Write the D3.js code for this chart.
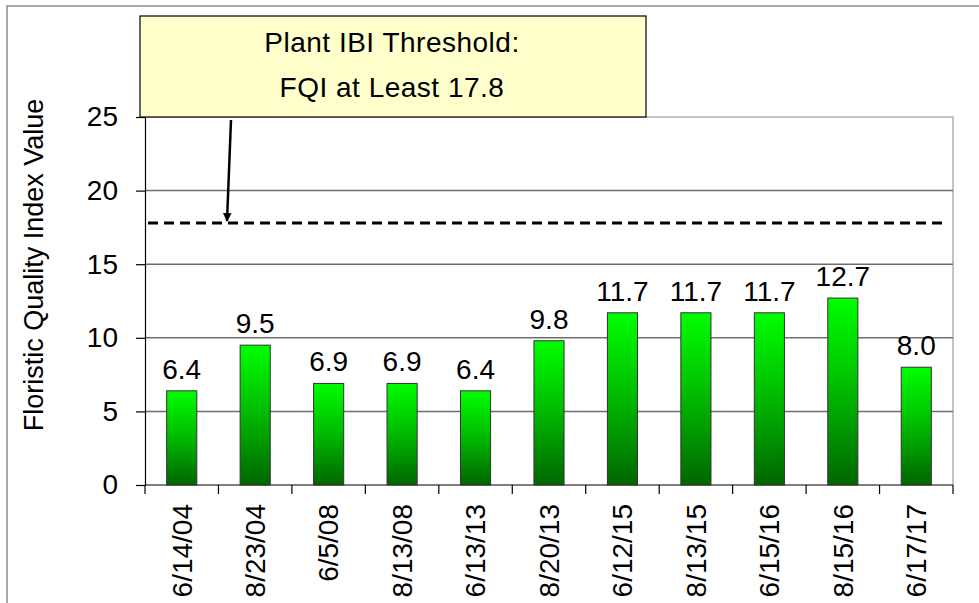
<!DOCTYPE html>
<html>
<head>
<meta charset="utf-8">
<script src="https://cdn.jsdelivr.net/npm/d3@7"></script>
<style>
  body { margin: 0; background: #fff; }
  svg { display: block; font-family: Arial, "Liberation Sans", sans-serif; }
</style>
</head>
<body>
<div id="chart"></div>
<script>
// data
var dates = ["6/14/04", "8/23/04", "6/5/08", "8/13/08", "6/13/13", "8/20/13", "6/12/15", "8/13/15", "6/15/16", "8/15/16", "6/17/17"];
var fqiValues = [6.4, 9.5, 6.9, 6.9, 6.4, 9.8, 11.7, 11.7, 11.7, 12.7, 8.0];
var yTicks = [0, 5, 10, 15, 20, 25];
var threshold = 17.8;
var noteLines = ["Plant IBI Threshold:", "FQI at Least 17.8"];

createGraph();

function createGraph() {
    var width = 979, height = 603;
    var left = 145, right = 953, top = 117, bottom = 485;
    var fontSize = "28px";

    var svg = d3.select("#chart").append("svg")
        .attr("width", width)
        .attr("height", height);

    // gradient for the bars
    var grad = svg.append("defs").append("linearGradient")
        .attr("id", "barFill")
        .attr("x1", 0).attr("y1", 0).attr("x2", 0).attr("y2", 1);
    grad.append("stop").attr("offset", "0%").attr("stop-color", "#00ff00");
    grad.append("stop").attr("offset", "45%").attr("stop-color", "#00c000");
    grad.append("stop").attr("offset", "100%").attr("stop-color", "#006600");

    // outer frame
    svg.append("rect")
        .attr("x", 7).attr("y", 6)
        .attr("width", width + 20).attr("height", height + 20)
        .attr("fill", "none")
        .attr("stroke", "#8c8c8c")
        .attr("stroke-width", 1.5);

    var x = d3.scaleBand().domain(dates).range([left, right]).paddingInner(0.59).paddingOuter(0.295);
    var xBounds = d3.scaleLinear().domain([0, dates.length]).range([left, right]);
    var y = d3.scaleLinear().domain([0, 25]).range([bottom, top]);

    // plot border (light) top + right
    svg.append("path")
        .attr("d", "M" + left + "," + top + "H" + right + "V" + bottom)
        .attr("fill", "none")
        .attr("stroke", "#b0b0b0")
        .attr("stroke-width", 1.5);

    // gridlines
    svg.append("g").selectAll("line")
        .data(yTicks.filter(function (d) { return d > 0 && d < 25; }))
        .enter().append("line")
        .attr("x1", left).attr("x2", right)
        .attr("y1", function (d) { return y(d); })
        .attr("y2", function (d) { return y(d); })
        .attr("stroke", "#6e6e6e")
        .attr("stroke-width", 1.5);

    // y axis
    var yAxis = svg.append("g")
        .attr("transform", "translate(" + left + ",0)")
        .call(d3.axisLeft(y).tickValues(yTicks).tickSize(9).tickPadding(18));
    yAxis.select(".domain").attr("stroke", "#000").attr("stroke-width", 1.2);
    yAxis.selectAll(".tick line").attr("stroke", "#000").attr("stroke-width", 1.2);
    yAxis.selectAll("text").attr("font-size", fontSize).attr("fill", "#000")
        .attr("font-family", "Arial, 'Liberation Sans', sans-serif");

    // x axis: baseline + boundary ticks
    svg.append("line")
        .attr("x1", left).attr("x2", right)
        .attr("y1", bottom).attr("y2", bottom)
        .attr("stroke", "#000").attr("stroke-width", 1.2);
    svg.append("g").selectAll("line")
        .data(d3.range(dates.length + 1))
        .enter().append("line")
        .attr("x1", function (i) { return xBounds(i); })
        .attr("x2", function (i) { return xBounds(i); })
        .attr("y1", bottom).attr("y2", bottom + 9)
        .attr("stroke", "#000").attr("stroke-width", 1.2);

    svg.append("g").selectAll("text")
        .data(dates)
        .enter().append("text")
        .attr("transform", function (d) {
            return "translate(" + (x(d) + x.bandwidth() / 2) + "," + (bottom + 19) + ") rotate(-90)";
        })
        .attr("dy", "0.35em")
        .attr("text-anchor", "end")
        .attr("font-size", fontSize)
        .text(function (d) { return d; });

    // bars
    svg.append("g").selectAll("rect")
        .data(fqiValues)
        .enter().append("rect")
        .attr("x", function (d, i) { return x(dates[i]); })
        .attr("y", function (d) { return y(d); })
        .attr("width", x.bandwidth())
        .attr("height", function (d) { return bottom - y(d); })
        .attr("fill", "url(#barFill)")
        .attr("stroke", "#333")
        .attr("stroke-width", 1);

    // value labels
    svg.append("g").selectAll("text")
        .data(fqiValues)
        .enter().append("text")
        .attr("x", function (d, i) { return x(dates[i]) + x.bandwidth() / 2; })
        .attr("y", function (d) { return y(d) - 12; })
        .attr("text-anchor", "middle")
        .attr("font-size", fontSize)
        .text(function (d) { return d.toFixed(1); });

    // threshold dashed line
    svg.append("line")
        .attr("x1", left + 3).attr("x2", right - 9)
        .attr("y1", y(threshold)).attr("y2", y(threshold))
        .attr("stroke", "#000")
        .attr("stroke-width", 3)
        .attr("stroke-dasharray", "10,6");

    // y title
    svg.append("text")
        .attr("transform", "translate(43,265) rotate(-90)")
        .attr("text-anchor", "middle")
        .attr("font-size", "27px")
        .text("Floristic Quality Index Value");

    // annotation box
    svg.append("rect")
        .attr("x", 140).attr("y", 16)
        .attr("width", 506).attr("height", 101)
        .attr("fill", "#ffffcc")
        .attr("stroke", "#000")
        .attr("stroke-width", 1.2);
    svg.append("g").selectAll("text")
        .data(noteLines)
        .enter().append("text")
        .attr("x", 392)
        .attr("y", function (d, i) { return 52 + i * 44.5; })
        .attr("text-anchor", "middle")
        .attr("font-size", fontSize)
        .attr("letter-spacing", "0.5px")
        .text(function (d) { return d; });

    // arrow from the note to the threshold line
    svg.append("defs").append("marker")
        .attr("id", "head")
        .attr("viewBox", "0 0 10 10")
        .attr("refX", 9).attr("refY", 5)
        .attr("markerWidth", 3.5).attr("markerHeight", 3.5)
        .attr("orient", "auto")
        .append("path").attr("d", "M0,0L10,5L0,10z").attr("fill", "#000");
    svg.append("line")
        .attr("x1", 231).attr("y1", 120)
        .attr("x2", 227).attr("y2", y(threshold) - 2)
        .attr("stroke", "#000")
        .attr("stroke-width", 2.5)
        .attr("marker-end", "url(#head)");
}
</script>
</body>
</html>
